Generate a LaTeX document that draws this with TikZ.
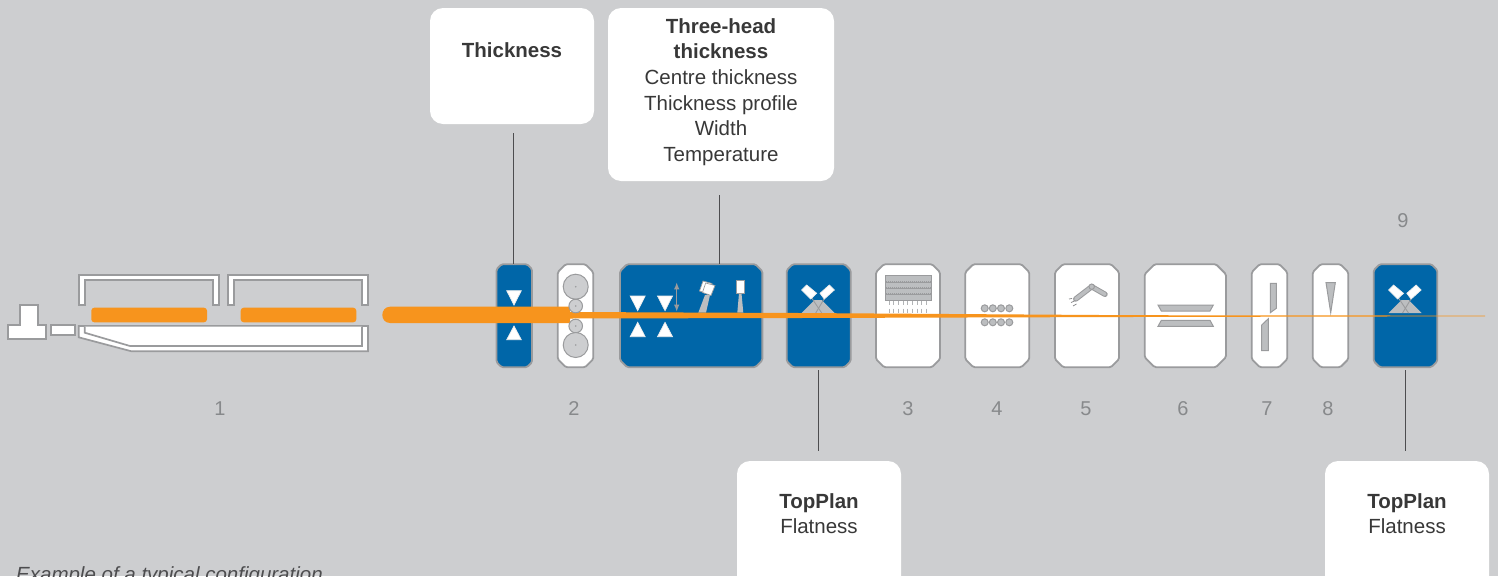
\documentclass[tikz,border=0pt]{standalone}
\usepackage{fontspec}
\setmainfont{Liberation Sans}
\usetikzlibrary{arrows.meta}

\definecolor{bggray}{HTML}{CDCED0}
\definecolor{linegray}{HTML}{9A9B9D}
\definecolor{icongray}{HTML}{BCBEC0}
\definecolor{labelgray}{HTML}{87898B}
\definecolor{darkgray}{HTML}{4D4D4F}
\definecolor{gaugeblue}{HTML}{0066A8}
\definecolor{striporange}{HTML}{F7941D}

\tikzset{
    station/.style={rectangle,inner sep=0pt,outer sep=0pt,minimum height=103pt},
    chamfer/.style={draw=linegray,line width=1.8pt,rounded corners=1.5pt},
    callout/.style={fill=white,rounded corners=13pt,inner sep=0pt,outer sep=0pt},
    calltext/.style={align=center,inner sep=0pt,text=black!78,font=\fontsize{20.5}{25.6}\selectfont},
    number/.style={text=labelgray,inner sep=0pt,font=\fontsize{20}{24}\selectfont},
    link/.style={draw=darkgray,line width=1pt},
    outline/.style={draw=linegray,line width=1.7pt,fill=white,line join=miter},
    icon/.style={draw=linegray,line width=1pt,fill=icongray},
    head/.style={draw=white!80!linegray,line width=.7pt,fill=white},
    pad/.style={fill=striporange,rounded corners=3pt}
}

\begin{document}
\begin{tikzpicture}[x=1pt,y=-1pt]
    \clip (0,0) rectangle (1498,576);
    \fill[bggray] (0,0) rectangle (1498,576);

    % callouts
    \node[callout,minimum width=164pt,minimum height=116pt] (thickness) at (512,66) {};
    \node[callout,minimum width=226pt,minimum height=173pt] (threehead) at (721,94.5) {};
    \node[callout,minimum width=164pt,minimum height=130pt] (topplanA) at (819,526) {};
    \node[callout,minimum width=164pt,minimum height=130pt] (topplanB) at (1407,526) {};
    \node[calltext] (thicknesstext) at (512,50) {\textbf{Thickness}};
    \node[calltext] (threeheadtext) at (721,92) {\textbf{Three-head}\\\textbf{thickness}\\Centre thickness\\Thickness profile\\Width\\Temperature};
    \node[calltext] (topplanAtext) at (819,513.5) {\textbf{TopPlan}\\Flatness};
    \node[calltext] (topplanBtext) at (1407,513.5) {\textbf{TopPlan}\\Flatness};

    % furnace
    \draw[outline] (20,305) -- (38,305) -- (38,324.7) -- (46,324.7) -- (46,339) -- (8.3,339) -- (8.3,324.7) -- (20,324.7) -- cycle;
    \draw[outline] (50.7,325.3) rectangle (75.3,335);
    \foreach \x in {0,149.3}
    \draw[outline] (78.7+\x,305.3) -- (78.7+\x,274.7) -- (218.7+\x,274.7) -- (218.7+\x,305.3) -- (212.7+\x,305.3) -- (212.7+\x,280) -- (84.7+\x,280) -- (84.7+\x,305.3) -- cycle;
    \draw[outline] (78.7,326) -- (368,326) -- (368,351.3) -- (131.5,351.3) -- (78.7,337.3) -- cycle;
    \draw[outline] (84.7,326.5) -- (84.7,332.7) -- (130,346) -- (362,346) -- (362,326.5);
    \fill[pad] (91.3,307.7) rectangle (207,322.3);
    \fill[pad] (240.7,307.7) rectangle (356.3,322.3);

    % stations
    \foreach \name/\x/\w/\c/\col in {thicknessgauge/514.3/35.5/5/gaugeblue,rolls/575.5/35.5/8/white,threegauge/691.2/142.3/7/gaugeblue,
        flatnessA/818.7/64/6/gaugeblue,descaler/908/64/8/white,cooling/997.3/64/8/white,robot/1087/64/8/white,
        press/1185.3/81.3/10/white,shear/1269.5/35.5/8/white,saw/1330.5/35.5/8/white,flatnessB/1405.5/63.6/6/gaugeblue} {
        \node[station,minimum width=\w pt] (\name) at (\x,315.7) {};
        \draw[chamfer,fill=\col] ([xshift=\c pt]\name.north west) -- ([xshift=-\c pt]\name.north east)
            -- ([yshift=-\c pt]\name.north east) -- ([yshift=\c pt]\name.south east)
            -- ([xshift=-\c pt]\name.south east) -- ([xshift=\c pt]\name.south west)
            -- ([yshift=\c pt]\name.south west) -- ([yshift=-\c pt]\name.north west) -- cycle;
    }

    % connectors
    \draw[link,shorten <=9pt] ([xshift=1pt]thickness.south) -- ([xshift=1pt]thickness.south |- thicknessgauge.north);
    \draw[link,shorten <=14pt] ([xshift=-2pt]threehead.south) -- ([xshift=-2pt]threehead.south |- threegauge.north);
    \draw[link,shorten >=10pt,shorten <=3pt] (flatnessA.south) -- (flatnessA.south |- topplanA.north);
    \draw[link,shorten >=10pt,shorten <=3pt] (flatnessB.south) -- (flatnessB.south |- topplanB.north);

    % thickness heads
    \foreach \x in {637.7,665} {
        \draw[head] (\x-7.5,296) -- (\x+7.5,296) -- (\x,310.7) -- cycle;
        \draw[head] (\x,322.3) -- (\x-7.5,336.7) -- (\x+7.5,336.7) -- cycle;
    }
    \draw[head] (506.7,290.7) -- (521.3,290.7) -- (514,305) -- cycle;
    \draw[head] (514,326) -- (506.7,339.7) -- (521.3,339.7) -- cycle;
    \draw[linegray,line width=1.2pt,{Latex[length=7pt,width=5.5pt]}-{Latex[length=7pt,width=5.5pt]}] (676.7,282.3) -- (676.7,311.7);
    \fill[icongray] (705,295) -- (698.3,312.7) -- (706,312.7) -- (710,295) -- cycle;
    \draw[head,draw=linegray] (703,281) -- (712,283.5) -- (708,294) -- (699.5,291) -- cycle;
    \draw[head,draw=linegray] (705.7,283) -- (715,285.5) -- (711,295.5) -- (702.5,292.5) -- cycle;
    \fill[icongray] (739,293.3) -- (737.3,312.7) -- (743.3,312.7) -- (741.5,293.3) -- cycle;
    \draw[head,draw=linegray] (736,280) rectangle (744.7,293.3);

    % flatness heads
    \foreach \x in {818.7,1405.5} {
        \begin{scope}[xshift=\x pt]
            \fill[icongray] (-17,313) -- (-4,300) -- (3,300) -- (16,313) -- cycle;
            \draw[linegray,line width=.9pt] (-7,298) -- (3,313);
            \draw[linegray,line width=.9pt] (6,298) -- (-3,313);
            \draw[head] (-17,290) -- (-12,285) -- (-2,293.3) -- (-8,299) -- cycle;
            \draw[head] (1.3,293.3) -- (10.6,285) -- (15.6,290) -- (5.6,299) -- cycle;
        \end{scope}
    }

    % descaler
    \draw[icon] (885,275) rectangle (931.7,300);
    \foreach \y in {281.7,287.7,294} {
        \draw[linegray,line width=.8pt] (885.5,\y+.5) -- (931.2,\y+.5);
        \draw[linegray,line width=1.2pt,dash pattern=on .7pt off 1.3pt] (885.5,\y-.6) -- (931.2,\y-.6);
    }
    \foreach \y in {303.3,310.7}
    \foreach \x in {889,893.7,...,931}
    \draw[icongray!70!linegray,line width=.9pt] (\x,\y-2) -- (\x,\y+2);

    % cooling rolls
    \foreach \x in {984.7,992.8,1001,1009.3}
    \foreach \y in {308.3,322.3}
    \draw[icon] (\x,\y) circle (3.5);

    % robot
    \draw[linegray,line width=5.4pt,line cap=round,line join=round] (1075.7,299) -- (1091.7,286.7) -- (1105,294.3);
    \draw[icongray,line width=3.4pt,line cap=round,line join=round] (1075.7,299) -- (1091.7,286.7) -- (1105,294.3);
    \draw[icon] (1091.7,286.7) circle (2.7);
    \draw[darkgray!70,line width=.7pt] (1069,299) -- (1072,298.5);
    \draw[darkgray!70,line width=.7pt] (1071,302.5) -- (1074.5,301);
    \draw[darkgray!70,line width=.7pt] (1073,306) -- (1076.5,304);

    % press
    \draw[icon] (1158,305) -- (1213.3,305) -- (1210,311) -- (1161.3,311) -- cycle;
    \draw[icon] (1161.3,320.3) -- (1210,320.3) -- (1213.3,326.3) -- (1158,326.3) -- cycle;

    % shear
    \draw[icon] (1270.3,283.3) -- (1276.3,283.3) -- (1276.3,308.3) -- (1270.3,312.7) -- cycle;
    \draw[icon] (1268.3,318.7) -- (1268.3,350.7) -- (1261.7,350.7) -- (1261.7,325) -- cycle;

    % saw
    \draw[icon] (1326,282.7) -- (1335.3,282.7) -- (1330.7,312.7) -- cycle;

    % strip
    \fill[striporange] (390,306.7) -- (570,306.7) -- (570,312) -- (800,313) -- (1130,315.2) -- (1485,315.6)
        -- (1485,316.3) -- (1130,317) -- (800,318) -- (570,318.5) -- (570,323) -- (390,323)
        .. controls (385,323) and (382.3,319) .. (382.3,315) .. controls (382.3,311) and (385,306.7) .. (390,306.7) -- cycle;

    % rolls
    \foreach \y/\r in {286.7/12.5,306/6.8,326/6.8,345/12.5} {
        \draw[icon,fill=bggray] (575.7,\y) circle (\r);
        \fill[linegray] (575.7,\y) circle (.9);
    }

    % numbers
    \node[number] (num1) at (220,409) {1};
    \node[number] (num2) at (574,409) {2};
    \node[number] (num3) at (908,409) {3};
    \node[number] (num4) at (997,409) {4};
    \node[number] (num5) at (1086,409) {5};
    \node[number] (num6) at (1183,409) {6};
    \node[number] (num7) at (1267,409) {7};
    \node[number] (num8) at (1328,409) {8};
    \node[number] (num9) at (1403,221) {9};

    \node[inner sep=0pt,anchor=base west,text=darkgray,font=\fontsize{20.5}{24}\selectfont\itshape] (caption) at (16,581) {Example of a typical configuration};
\end{tikzpicture}
\end{document}
